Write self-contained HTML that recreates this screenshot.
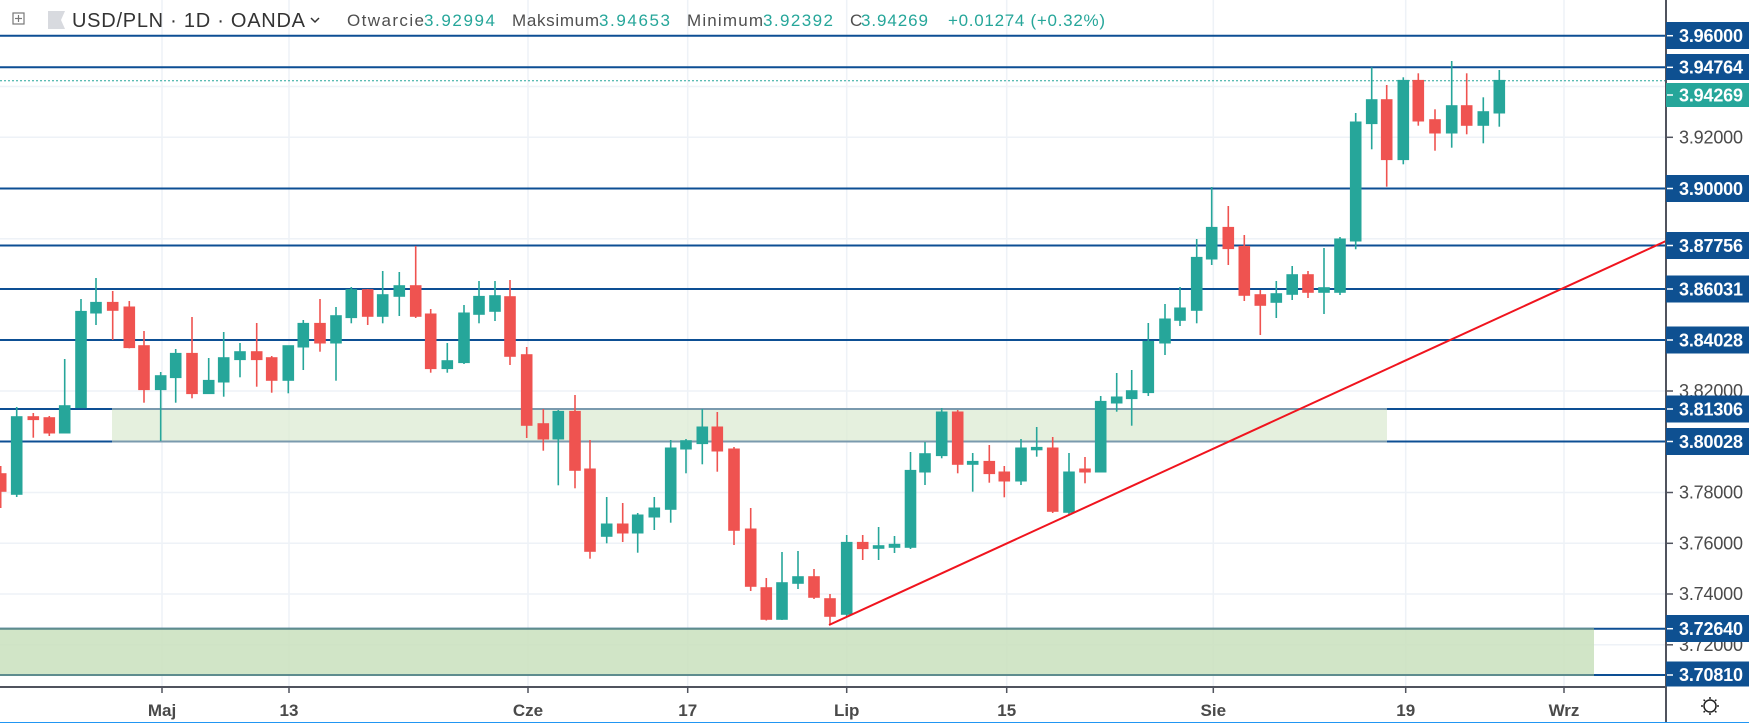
<!DOCTYPE html>
<html><head><meta charset="utf-8"><style>
html,body{margin:0;padding:0;background:#fff;}
svg{display:block;font-family:"Liberation Sans","DejaVu Sans",sans-serif;}
</style></head><body>
<svg width="1749" height="723" viewBox="0 0 1749 723" xmlns="http://www.w3.org/2000/svg">
<rect width="1749" height="723" fill="#fff"/>
<!-- grid -->
<g stroke="#eef2f7" stroke-width="1.5">
<line x1="0" y1="86.5" x2="1666" y2="86.5"/><line x1="0" y1="137.3" x2="1666" y2="137.3"/><line x1="0" y1="238.7" x2="1666" y2="238.7"/><line x1="0" y1="340" x2="1666" y2="340"/><line x1="0" y1="391" x2="1666" y2="391"/><line x1="0" y1="492.5" x2="1666" y2="492.5"/><line x1="0" y1="543.3" x2="1666" y2="543.3"/><line x1="0" y1="594" x2="1666" y2="594"/><line x1="0" y1="644.8" x2="1666" y2="644.8"/>
<line x1="162" y1="0" x2="162" y2="688"/><line x1="289" y1="0" x2="289" y2="688"/><line x1="528" y1="0" x2="528" y2="688"/><line x1="687.7" y1="0" x2="687.7" y2="688"/><line x1="846.7" y1="0" x2="846.7" y2="688"/><line x1="1006.7" y1="0" x2="1006.7" y2="688"/><line x1="1213.3" y1="0" x2="1213.3" y2="688"/><line x1="1405.7" y1="0" x2="1405.7" y2="688"/><line x1="1564" y1="0" x2="1564" y2="688"/>
</g>
<!-- level lines -->
<g stroke="#0d4f94" stroke-width="2">
<line x1="0" y1="35.7" x2="1666" y2="35.7"/><line x1="0" y1="67.3" x2="1666" y2="67.3"/><line x1="0" y1="188.5" x2="1666" y2="188.5"/><line x1="0" y1="245.5" x2="1666" y2="245.5"/><line x1="0" y1="289" x2="1666" y2="289"/><line x1="0" y1="340" x2="1666" y2="340"/><line x1="0" y1="409" x2="1666" y2="409"/><line x1="0" y1="441.5" x2="1666" y2="441.5"/><line x1="0" y1="628.7" x2="1666" y2="628.7"/><line x1="0" y1="675" x2="1666" y2="675"/>
</g>
<line x1="0" y1="80.7" x2="1666" y2="80.7" stroke="#26a69a" stroke-width="1" stroke-dasharray="2,2"/>
<!-- zones -->
<rect x="112" y="409" width="1275" height="32.5" fill="#dcebd3" fill-opacity="0.75"/>
<g stroke="#7a9aae" stroke-width="2"><line x1="112" y1="409" x2="1387" y2="409"/><line x1="112" y1="441.5" x2="1387" y2="441.5"/></g>
<rect x="0" y="628.7" width="1594" height="46.3" fill="#c9e1bd" fill-opacity="0.85"/>
<g stroke="#5e8c8e" stroke-width="2"><line x1="0" y1="628.7" x2="1594" y2="628.7"/><line x1="0" y1="675" x2="1594" y2="675"/></g>
<!-- candles -->
<g id="c" stroke-width="1.6">
<g stroke="#ef5350" fill="#ef5350"><line x1="0.7" y1="466" x2="0.7" y2="508"/><rect x="-4.3" y="474" width="10" height="17"/></g>
<g stroke="#26a69a" fill="#26a69a"><line x1="16.7" y1="407" x2="16.7" y2="497"/><rect x="11.7" y="417" width="10" height="77"/></g>
<g stroke="#ef5350" fill="#ef5350"><line x1="33.3" y1="413" x2="33.3" y2="437.7"/><rect x="28.3" y="417" width="10" height="2.3"/></g>
<g stroke="#ef5350" fill="#ef5350"><line x1="49.3" y1="416" x2="49.3" y2="436"/><rect x="44.3" y="418" width="10" height="14.7"/></g>
<g stroke="#26a69a" fill="#26a69a"><line x1="64.7" y1="359" x2="64.7" y2="433"/><rect x="59.7" y="406" width="10" height="26.7"/></g>
<g stroke="#26a69a" fill="#26a69a"><line x1="81" y1="299" x2="81" y2="408"/><rect x="76" y="311.7" width="10" height="95.6"/></g>
<g stroke="#26a69a" fill="#26a69a"><line x1="96" y1="278" x2="96" y2="325"/><rect x="91" y="302.7" width="10" height="10"/></g>
<g stroke="#ef5350" fill="#ef5350"><line x1="112.7" y1="291" x2="112.7" y2="340"/><rect x="107.7" y="302.7" width="10" height="7.3"/></g>
<g stroke="#ef5350" fill="#ef5350"><line x1="129.3" y1="301" x2="129.3" y2="348.3"/><rect x="124.3" y="307.3" width="10" height="40"/></g>
<g stroke="#ef5350" fill="#ef5350"><line x1="144" y1="331" x2="144" y2="402.7"/><rect x="139" y="346" width="10" height="43.3"/></g>
<g stroke="#26a69a" fill="#26a69a"><line x1="160.7" y1="372" x2="160.7" y2="441"/><rect x="155.7" y="376" width="10" height="13.3"/></g>
<g stroke="#26a69a" fill="#26a69a"><line x1="175.7" y1="349" x2="175.7" y2="402.7"/><rect x="170.7" y="353.7" width="10" height="23.6"/></g>
<g stroke="#ef5350" fill="#ef5350"><line x1="192" y1="317" x2="192" y2="398.3"/><rect x="187" y="353.7" width="10" height="39.6"/></g>
<g stroke="#26a69a" fill="#26a69a"><line x1="208.7" y1="358" x2="208.7" y2="393.3"/><rect x="203.7" y="380.7" width="10" height="12.6"/></g>
<g stroke="#26a69a" fill="#26a69a"><line x1="223.7" y1="332" x2="223.7" y2="396.7"/><rect x="218.7" y="358" width="10" height="23.7"/></g>
<g stroke="#26a69a" fill="#26a69a"><line x1="240" y1="343" x2="240" y2="377.3"/><rect x="235" y="352" width="10" height="7.3"/></g>
<g stroke="#ef5350" fill="#ef5350"><line x1="256.7" y1="323" x2="256.7" y2="386.7"/><rect x="251.7" y="352" width="10" height="7.3"/></g>
<g stroke="#ef5350" fill="#ef5350"><line x1="271.7" y1="356" x2="271.7" y2="392.7"/><rect x="266.7" y="358" width="10" height="22"/></g>
<g stroke="#26a69a" fill="#26a69a"><line x1="288.3" y1="346" x2="288.3" y2="393.3"/><rect x="283.3" y="346" width="10" height="34"/></g>
<g stroke="#26a69a" fill="#26a69a"><line x1="303.3" y1="320" x2="303.3" y2="370"/><rect x="298.3" y="323.7" width="10" height="23"/></g>
<g stroke="#ef5350" fill="#ef5350"><line x1="320" y1="299" x2="320" y2="351.7"/><rect x="315" y="323.7" width="10" height="19"/></g>
<g stroke="#26a69a" fill="#26a69a"><line x1="336" y1="307" x2="336" y2="380.7"/><rect x="331" y="316" width="10" height="26.7"/></g>
<g stroke="#26a69a" fill="#26a69a"><line x1="351.3" y1="287" x2="351.3" y2="323.3"/><rect x="346.3" y="290" width="10" height="27.3"/></g>
<g stroke="#ef5350" fill="#ef5350"><line x1="367.7" y1="289" x2="367.7" y2="325"/><rect x="362.7" y="290" width="10" height="26"/></g>
<g stroke="#26a69a" fill="#26a69a"><line x1="382.7" y1="271" x2="382.7" y2="323.3"/><rect x="377.7" y="295" width="10" height="21"/></g>
<g stroke="#26a69a" fill="#26a69a"><line x1="399.3" y1="272" x2="399.3" y2="316"/><rect x="394.3" y="286" width="10" height="10"/></g>
<g stroke="#ef5350" fill="#ef5350"><line x1="415.7" y1="246" x2="415.7" y2="318"/><rect x="410.7" y="286" width="10" height="30"/></g>
<g stroke="#ef5350" fill="#ef5350"><line x1="430.7" y1="309" x2="430.7" y2="372.7"/><rect x="425.7" y="314.3" width="10" height="54"/></g>
<g stroke="#26a69a" fill="#26a69a"><line x1="447.3" y1="343" x2="447.3" y2="372.7"/><rect x="442.3" y="361" width="10" height="7.3"/></g>
<g stroke="#26a69a" fill="#26a69a"><line x1="464" y1="305" x2="464" y2="364"/><rect x="459" y="313.3" width="10" height="49"/></g>
<g stroke="#26a69a" fill="#26a69a"><line x1="479" y1="281" x2="479" y2="323.3"/><rect x="474" y="296.7" width="10" height="17.3"/></g>
<g stroke="#26a69a" fill="#26a69a"><line x1="495" y1="281" x2="495" y2="321"/><rect x="490" y="296" width="10" height="15"/></g>
<g stroke="#ef5350" fill="#ef5350"><line x1="510" y1="280" x2="510" y2="365"/><rect x="505" y="297" width="10" height="59"/></g>
<g stroke="#ef5350" fill="#ef5350"><line x1="526.7" y1="347" x2="526.7" y2="438"/><rect x="521.7" y="355" width="10" height="70"/></g>
<g stroke="#ef5350" fill="#ef5350"><line x1="543.3" y1="409" x2="543.3" y2="450.7"/><rect x="538.3" y="424" width="10" height="14.7"/></g>
<g stroke="#26a69a" fill="#26a69a"><line x1="558.3" y1="410" x2="558.3" y2="485.3"/><rect x="553.3" y="411.7" width="10" height="27"/></g>
<g stroke="#ef5350" fill="#ef5350"><line x1="575" y1="395" x2="575" y2="488.3"/><rect x="570" y="411.7" width="10" height="58.3"/></g>
<g stroke="#ef5350" fill="#ef5350"><line x1="590" y1="440" x2="590" y2="558.7"/><rect x="585" y="469.3" width="10" height="81.7"/></g>
<g stroke="#26a69a" fill="#26a69a"><line x1="606.7" y1="497" x2="606.7" y2="543.3"/><rect x="601.7" y="524.3" width="10" height="11.7"/></g>
<g stroke="#ef5350" fill="#ef5350"><line x1="622.7" y1="503" x2="622.7" y2="542"/><rect x="617.7" y="524.3" width="10" height="8.4"/></g>
<g stroke="#26a69a" fill="#26a69a"><line x1="637.7" y1="513" x2="637.7" y2="552.7"/><rect x="632.7" y="515.3" width="10" height="17.4"/></g>
<g stroke="#26a69a" fill="#26a69a"><line x1="654.3" y1="497" x2="654.3" y2="530"/><rect x="649.3" y="508.3" width="10" height="8.4"/></g>
<g stroke="#26a69a" fill="#26a69a"><line x1="670.7" y1="440" x2="670.7" y2="522.7"/><rect x="665.7" y="448.3" width="10" height="60.7"/></g>
<g stroke="#26a69a" fill="#26a69a"><line x1="686" y1="439" x2="686" y2="473.3"/><rect x="681" y="441" width="10" height="7.7"/></g>
<g stroke="#26a69a" fill="#26a69a"><line x1="702.3" y1="409" x2="702.3" y2="464.3"/><rect x="697.3" y="427.3" width="10" height="16"/></g>
<g stroke="#ef5350" fill="#ef5350"><line x1="717.3" y1="412" x2="717.3" y2="471.7"/><rect x="712.3" y="427.3" width="10" height="23.4"/></g>
<g stroke="#ef5350" fill="#ef5350"><line x1="734" y1="447" x2="734" y2="545"/><rect x="729" y="449.3" width="10" height="80.7"/></g>
<g stroke="#ef5350" fill="#ef5350"><line x1="750.7" y1="508" x2="750.7" y2="591"/><rect x="745.7" y="529.3" width="10" height="56.7"/></g>
<g stroke="#ef5350" fill="#ef5350"><line x1="766.3" y1="578" x2="766.3" y2="620.5"/><rect x="761.3" y="588" width="10" height="31"/></g>
<g stroke="#26a69a" fill="#26a69a"><line x1="782" y1="552" x2="782" y2="620"/><rect x="777" y="583" width="10" height="36"/></g>
<g stroke="#26a69a" fill="#26a69a"><line x1="798" y1="551" x2="798" y2="589"/><rect x="793" y="577" width="10" height="6"/></g>
<g stroke="#ef5350" fill="#ef5350"><line x1="814" y1="569" x2="814" y2="599"/><rect x="809" y="577" width="10" height="20"/></g>
<g stroke="#ef5350" fill="#ef5350"><line x1="830" y1="594" x2="830" y2="625"/><rect x="825" y="599" width="10" height="17"/></g>
<g stroke="#26a69a" fill="#26a69a"><line x1="846.7" y1="535" x2="846.7" y2="617"/><rect x="841.7" y="542.7" width="10" height="71.3"/></g>
<g stroke="#ef5350" fill="#ef5350"><line x1="862.7" y1="535" x2="862.7" y2="560"/><rect x="857.7" y="542.7" width="10" height="5.6"/></g>
<g stroke="#26a69a" fill="#26a69a"><line x1="878.6" y1="527" x2="878.6" y2="560"/><rect x="873.6" y="546" width="10" height="2"/></g>
<g stroke="#26a69a" fill="#26a69a"><line x1="894.5" y1="536" x2="894.5" y2="553"/><rect x="889.5" y="544.6" width="10" height="2.4"/></g>
<g stroke="#26a69a" fill="#26a69a"><line x1="910.5" y1="452" x2="910.5" y2="549"/><rect x="905.5" y="470.7" width="10" height="76.3"/></g>
<g stroke="#26a69a" fill="#26a69a"><line x1="925" y1="442" x2="925" y2="485"/><rect x="920" y="454" width="10" height="17.7"/></g>
<g stroke="#26a69a" fill="#26a69a"><line x1="941.7" y1="408" x2="941.7" y2="458.3"/><rect x="936.7" y="412.3" width="10" height="43"/></g>
<g stroke="#ef5350" fill="#ef5350"><line x1="957.7" y1="410" x2="957.7" y2="473.3"/><rect x="952.7" y="412.3" width="10" height="51.7"/></g>
<g stroke="#26a69a" fill="#26a69a"><line x1="972.7" y1="453" x2="972.7" y2="491.7"/><rect x="967.7" y="461.7" width="10" height="2.3"/></g>
<g stroke="#ef5350" fill="#ef5350"><line x1="989.3" y1="445" x2="989.3" y2="482.7"/><rect x="984.3" y="461.7" width="10" height="11.6"/></g>
<g stroke="#ef5350" fill="#ef5350"><line x1="1004.3" y1="466" x2="1004.3" y2="497.3"/><rect x="999.3" y="472.3" width="10" height="8.4"/></g>
<g stroke="#26a69a" fill="#26a69a"><line x1="1021" y1="439" x2="1021" y2="485"/><rect x="1016" y="448.3" width="10" height="32.4"/></g>
<g stroke="#26a69a" fill="#26a69a"><line x1="1036.7" y1="427" x2="1036.7" y2="456.7"/><rect x="1031.7" y="447.7" width="10" height="1.8"/></g>
<g stroke="#ef5350" fill="#ef5350"><line x1="1052.7" y1="437" x2="1052.7" y2="513"/><rect x="1047.7" y="448.3" width="10" height="62.7"/></g>
<g stroke="#26a69a" fill="#26a69a"><line x1="1069" y1="453" x2="1069" y2="515.6"/><rect x="1064" y="472.3" width="10" height="39.7"/></g>
<g stroke="#ef5350" fill="#ef5350"><line x1="1085" y1="457" x2="1085" y2="483.3"/><rect x="1080" y="469.3" width="10" height="2.4"/></g>
<g stroke="#26a69a" fill="#26a69a"><line x1="1100.7" y1="396" x2="1100.7" y2="472"/><rect x="1095.7" y="401.7" width="10" height="70"/></g>
<g stroke="#26a69a" fill="#26a69a"><line x1="1116.7" y1="373" x2="1116.7" y2="411.7"/><rect x="1111.7" y="397.3" width="10" height="5.4"/></g>
<g stroke="#26a69a" fill="#26a69a"><line x1="1131.7" y1="370" x2="1131.7" y2="425.7"/><rect x="1126.7" y="391" width="10" height="7.3"/></g>
<g stroke="#26a69a" fill="#26a69a"><line x1="1148.3" y1="323" x2="1148.3" y2="396"/><rect x="1143.3" y="341.7" width="10" height="50.6"/></g>
<g stroke="#26a69a" fill="#26a69a"><line x1="1165" y1="304" x2="1165" y2="355"/><rect x="1160" y="319.3" width="10" height="23.4"/></g>
<g stroke="#26a69a" fill="#26a69a"><line x1="1180" y1="287" x2="1180" y2="326"/><rect x="1175" y="308.3" width="10" height="11.7"/></g>
<g stroke="#26a69a" fill="#26a69a"><line x1="1196.7" y1="239" x2="1196.7" y2="323.3"/><rect x="1191.7" y="257.7" width="10" height="52.3"/></g>
<g stroke="#26a69a" fill="#26a69a"><line x1="1211.7" y1="187" x2="1211.7" y2="265"/><rect x="1206.7" y="227.7" width="10" height="31"/></g>
<g stroke="#ef5350" fill="#ef5350"><line x1="1228.3" y1="206" x2="1228.3" y2="265"/><rect x="1223.3" y="227.7" width="10" height="20.6"/></g>
<g stroke="#ef5350" fill="#ef5350"><line x1="1244.3" y1="235" x2="1244.3" y2="301"/><rect x="1239.3" y="246.7" width="10" height="48.3"/></g>
<g stroke="#ef5350" fill="#ef5350"><line x1="1260.3" y1="290" x2="1260.3" y2="335"/><rect x="1255.3" y="295" width="10" height="10"/></g>
<g stroke="#26a69a" fill="#26a69a"><line x1="1276.3" y1="281" x2="1276.3" y2="318"/><rect x="1271.3" y="294" width="10" height="8"/></g>
<g stroke="#26a69a" fill="#26a69a"><line x1="1292.2" y1="266" x2="1292.2" y2="300"/><rect x="1287.2" y="275" width="10" height="19"/></g>
<g stroke="#ef5350" fill="#ef5350"><line x1="1308" y1="271" x2="1308" y2="298"/><rect x="1303" y="275" width="10" height="17"/></g>
<g stroke="#26a69a" fill="#26a69a"><line x1="1324" y1="248" x2="1324" y2="314"/><rect x="1319" y="288" width="10" height="4"/></g>
<g stroke="#26a69a" fill="#26a69a"><line x1="1340" y1="237" x2="1340" y2="295"/><rect x="1335" y="239.3" width="10" height="52.7"/></g>
<g stroke="#26a69a" fill="#26a69a"><line x1="1355.7" y1="113" x2="1355.7" y2="249.3"/><rect x="1350.7" y="122.3" width="10" height="118.4"/></g>
<g stroke="#26a69a" fill="#26a69a"><line x1="1371.7" y1="67.3" x2="1371.7" y2="149.3"/><rect x="1366.7" y="100" width="10" height="23.3"/></g>
<g stroke="#ef5350" fill="#ef5350"><line x1="1386.7" y1="85" x2="1386.7" y2="186.7"/><rect x="1381.7" y="100" width="10" height="59.3"/></g>
<g stroke="#26a69a" fill="#26a69a"><line x1="1403.3" y1="77.3" x2="1403.3" y2="164.3"/><rect x="1398.3" y="80.7" width="10" height="78.6"/></g>
<g stroke="#ef5350" fill="#ef5350"><line x1="1418.3" y1="73.3" x2="1418.3" y2="125.7"/><rect x="1413.3" y="80.7" width="10" height="40"/></g>
<g stroke="#ef5350" fill="#ef5350"><line x1="1435" y1="109.3" x2="1435" y2="150.7"/><rect x="1430" y="120" width="10" height="12.7"/></g>
<g stroke="#26a69a" fill="#26a69a"><line x1="1451.7" y1="61" x2="1451.7" y2="147.7"/><rect x="1446.7" y="106" width="10" height="26.7"/></g>
<g stroke="#ef5350" fill="#ef5350"><line x1="1466.7" y1="73.3" x2="1466.7" y2="134.3"/><rect x="1461.7" y="106" width="10" height="19"/></g>
<g stroke="#26a69a" fill="#26a69a"><line x1="1483.3" y1="97.3" x2="1483.3" y2="143.3"/><rect x="1478.3" y="112" width="10" height="13"/></g>
<g stroke="#26a69a" fill="#26a69a"><line x1="1499.3" y1="70" x2="1499.3" y2="126.7"/><rect x="1494.3" y="80.7" width="10" height="32"/></g>
</g>
<!-- trendline -->
<line x1="829" y1="625" x2="1666" y2="241" stroke="#f0141e" stroke-width="2"/>
<!-- axes -->
<rect x="1666" y="0" width="83" height="723" fill="#fff"/>
<rect x="0" y="688" width="1666" height="35" fill="#fff"/>
<line x1="0" y1="687" x2="1666" y2="687" stroke="#50535e" stroke-width="2"/>
<line x1="1666" y1="0" x2="1666" y2="723" stroke="#50535e" stroke-width="2"/>
<g stroke="#50535e" stroke-width="1.5">
<line x1="162" y1="688" x2="162" y2="693"/><line x1="289" y1="688" x2="289" y2="693"/><line x1="528" y1="688" x2="528" y2="693"/><line x1="687.7" y1="688" x2="687.7" y2="693"/><line x1="846.7" y1="688" x2="846.7" y2="693"/><line x1="1006.7" y1="688" x2="1006.7" y2="693"/><line x1="1213.3" y1="688" x2="1213.3" y2="693"/><line x1="1405.7" y1="688" x2="1405.7" y2="693"/><line x1="1564" y1="688" x2="1564" y2="693"/>
<line x1="1667" y1="137.3" x2="1673" y2="137.3"/><line x1="1667" y1="391" x2="1673" y2="391"/><line x1="1667" y1="492.5" x2="1673" y2="492.5"/><line x1="1667" y1="543.3" x2="1673" y2="543.3"/><line x1="1667" y1="594" x2="1673" y2="594"/><line x1="1667" y1="644.8" x2="1673" y2="644.8"/>
</g>
<g fill="#4a4a4a" font-size="17" text-anchor="middle" font-weight="bold">
<text x="162" y="716">Maj</text><text x="289" y="716">13</text><text x="528" y="716">Cze</text><text x="687.7" y="716">17</text><text x="846.7" y="716">Lip</text><text x="1006.7" y="716">15</text><text x="1213.3" y="716">Sie</text><text x="1405.7" y="716">19</text><text x="1564" y="716">Wrz</text>
</g>
<g fill="#4a4a4a" font-size="18">
<text x="1679" y="143.5" textLength="64">3.92000</text><text x="1679" y="397.2" textLength="64">3.82000</text><text x="1679" y="498.7" textLength="64">3.78000</text><text x="1679" y="549.5" textLength="64">3.76000</text><text x="1679" y="600.2" textLength="64">3.74000</text><text x="1679" y="651" textLength="64">3.72000</text>
</g>
<g fill="#0e5091">
<rect x="1666" y="22" width="83" height="27"/><rect x="1666" y="54" width="83" height="26"/><rect x="1666" y="175" width="83" height="27"/><rect x="1666" y="232" width="83" height="27"/><rect x="1666" y="275.5" width="83" height="27"/><rect x="1666" y="326.5" width="83" height="27"/><rect x="1666" y="395.5" width="83" height="27"/><rect x="1666" y="428" width="83" height="27"/><rect x="1666" y="615" width="83" height="27"/><rect x="1666" y="661.5" width="83" height="25"/>
</g>
<rect x="1666" y="83" width="83" height="24" fill="#26a69a"/>
<g fill="#fff" font-size="18" font-weight="bold">
<text x="1679" y="42" textLength="64">3.96000</text><text x="1679" y="73.5" textLength="64">3.94764</text><text x="1679" y="101.5" textLength="64">3.94269</text><text x="1679" y="195" textLength="64">3.90000</text><text x="1679" y="252" textLength="64">3.87756</text><text x="1679" y="295.5" textLength="64">3.86031</text><text x="1679" y="346.5" textLength="64">3.84028</text><text x="1679" y="415.5" textLength="64">3.81306</text><text x="1679" y="448" textLength="64">3.80028</text><text x="1679" y="635" textLength="64">3.72640</text><text x="1679" y="681" textLength="64">3.70810</text>
</g>
<g stroke="#fff" stroke-width="1.5">
<line x1="1667" y1="35.7" x2="1673" y2="35.7"/><line x1="1667" y1="67.3" x2="1673" y2="67.3"/><line x1="1667" y1="188.5" x2="1673" y2="188.5"/><line x1="1667" y1="245.5" x2="1673" y2="245.5"/><line x1="1667" y1="289" x2="1673" y2="289"/><line x1="1667" y1="340" x2="1673" y2="340"/><line x1="1667" y1="409" x2="1673" y2="409"/><line x1="1667" y1="441.5" x2="1673" y2="441.5"/><line x1="1667" y1="628.7" x2="1673" y2="628.7"/><line x1="1667" y1="675" x2="1673" y2="675"/><line x1="1667" y1="95" x2="1673" y2="95"/>
</g>
<!-- gear -->
<g stroke="#222" stroke-width="1.5" fill="none">
<circle cx="1710" cy="706" r="6"/>
<line x1="1710" y1="697" x2="1710" y2="699"/><line x1="1710" y1="713" x2="1710" y2="715"/><line x1="1701" y1="706" x2="1703" y2="706"/><line x1="1717" y1="706" x2="1719" y2="706"/>
<line x1="1703.6" y1="699.6" x2="1705" y2="701"/><line x1="1715" y1="711" x2="1716.4" y2="712.4"/><line x1="1716.4" y1="699.6" x2="1715" y2="701"/><line x1="1705" y1="711" x2="1703.6" y2="712.4"/>
</g>
<line x1="0" y1="722.5" x2="1749" y2="722.5" stroke="#2196f3" stroke-width="1"/>
<!-- header -->
<rect x="13" y="13" width="11" height="11" fill="none" stroke="#777" stroke-width="1.2"/>
<line x1="18.5" y1="15" x2="18.5" y2="22" stroke="#777" stroke-width="1.2"/><line x1="15" y1="18.5" x2="22" y2="18.5" stroke="#777" stroke-width="1.2"/>
<polygon points="48,11 65,11 61,20 65,29 48,29" fill="#d8dadf"/>
<text x="72" y="27" font-size="20" fill="#333" textLength="233">USD/PLN · 1D · OANDA</text>
<polyline points="311,18 315,22 319,18" fill="none" stroke="#333" stroke-width="1.5"/>
<g font-size="17">
<text x="347" y="26" fill="#4f4f4f" textLength="77">Otwarcie</text><text x="424" y="26" fill="#26a69a" textLength="71">3.92994</text>
<text x="512" y="26" fill="#4f4f4f" textLength="87">Maksimum</text><text x="599" y="26" fill="#26a69a" textLength="71">3.94653</text>
<text x="687" y="26" fill="#4f4f4f" textLength="76">Minimum</text><text x="763" y="26" fill="#26a69a" textLength="70">3.92392</text>
<text x="850" y="26" fill="#4f4f4f" textLength="11">C</text><text x="861" y="26" fill="#26a69a" textLength="67">3.94269</text>
<text x="948" y="26" fill="#26a69a" textLength="157">+0.01274 (+0.32%)</text>
</g>
</svg>
</body></html>
